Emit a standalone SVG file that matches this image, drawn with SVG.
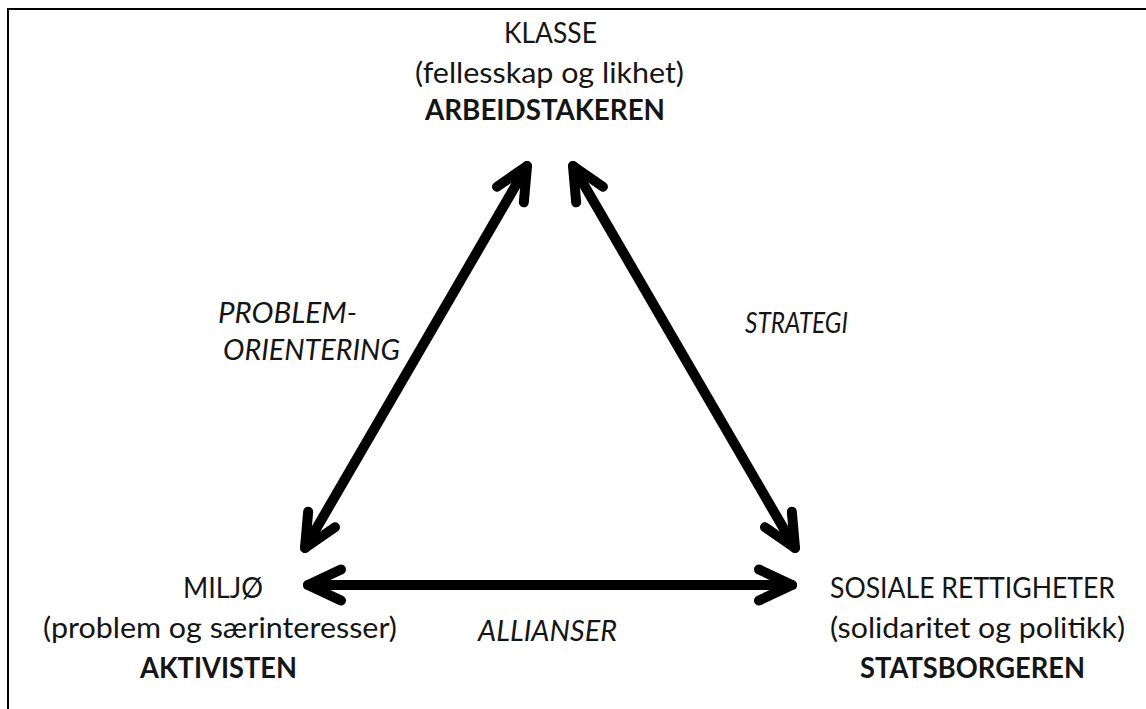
<svg xmlns="http://www.w3.org/2000/svg" width="1146" height="709" viewBox="0 0 1146 709">
<style>
text{font-family:Lato,"Open Sans","Liberation Sans",sans-serif;font-size:29px;fill:#151515}
.b{font-weight:bold}
.i{font-style:italic}
.ar{fill:none;stroke:#000;stroke-width:10;stroke-linecap:round;stroke-linejoin:round}
</style>
<defs>
<marker id="head" markerUnits="userSpaceOnUse" viewBox="-50 -30 60 60" markerWidth="60" markerHeight="60" refX="0" refY="0" orient="auto-start-reverse" overflow="visible">
<path d="M-33,-15.5 L0,0 L-33,15.5" fill="none" stroke="#000" stroke-width="10" stroke-linecap="round" stroke-linejoin="round"/>
</marker>
</defs>
<rect width="1146" height="709" fill="#fff"/>
<path d="M8,709 V9 H1146" fill="none" stroke="#000" stroke-width="2"/>
<g id="connectors">
<line class="ar" x1="305" y1="548" x2="527" y2="166" marker-start="url(#head)" marker-end="url(#head)"/>
<line class="ar" x1="573" y1="166" x2="795" y2="548" marker-start="url(#head)" marker-end="url(#head)"/>
<line class="ar" x1="308" y1="585" x2="792" y2="585" marker-start="url(#head)" marker-end="url(#head)"/>
<text class="i" x="218" y="323" textLength="139" lengthAdjust="spacingAndGlyphs">PROBLEM-</text>
<text class="i" x="223" y="360" textLength="177" lengthAdjust="spacingAndGlyphs">ORIENTERING</text>
<text class="i" x="745" y="333" textLength="103" lengthAdjust="spacingAndGlyphs">STRATEGI</text>
<text class="i" x="478" y="641" textLength="139" lengthAdjust="spacingAndGlyphs">ALLIANSER</text>
</g>
<g id="klasse">
<text x="504" y="43" textLength="93" lengthAdjust="spacingAndGlyphs">KLASSE</text>
<text x="415" y="83" textLength="269" lengthAdjust="spacingAndGlyphs">(fellesskap og likhet)</text>
<text class="b" x="425" y="120" textLength="240" lengthAdjust="spacingAndGlyphs">ARBEIDSTAKEREN</text>
</g>
<g id="miljo">
<text x="183" y="598" textLength="80" lengthAdjust="spacingAndGlyphs">MILJØ</text>
<text x="43" y="638" textLength="354" lengthAdjust="spacingAndGlyphs">(problem og særinteresser)</text>
<text class="b" x="140" y="678" textLength="157" lengthAdjust="spacingAndGlyphs">AKTIVISTEN</text>
</g>
<g id="sosiale">
<text x="830" y="598" textLength="285" lengthAdjust="spacingAndGlyphs">SOSIALE RETTIGHETER</text>
<text x="830" y="638" textLength="295" lengthAdjust="spacingAndGlyphs">(solidaritet og politikk)</text>
<text class="b" x="860" y="678" textLength="225" lengthAdjust="spacingAndGlyphs">STATSBORGEREN</text>
</g>
</svg>
